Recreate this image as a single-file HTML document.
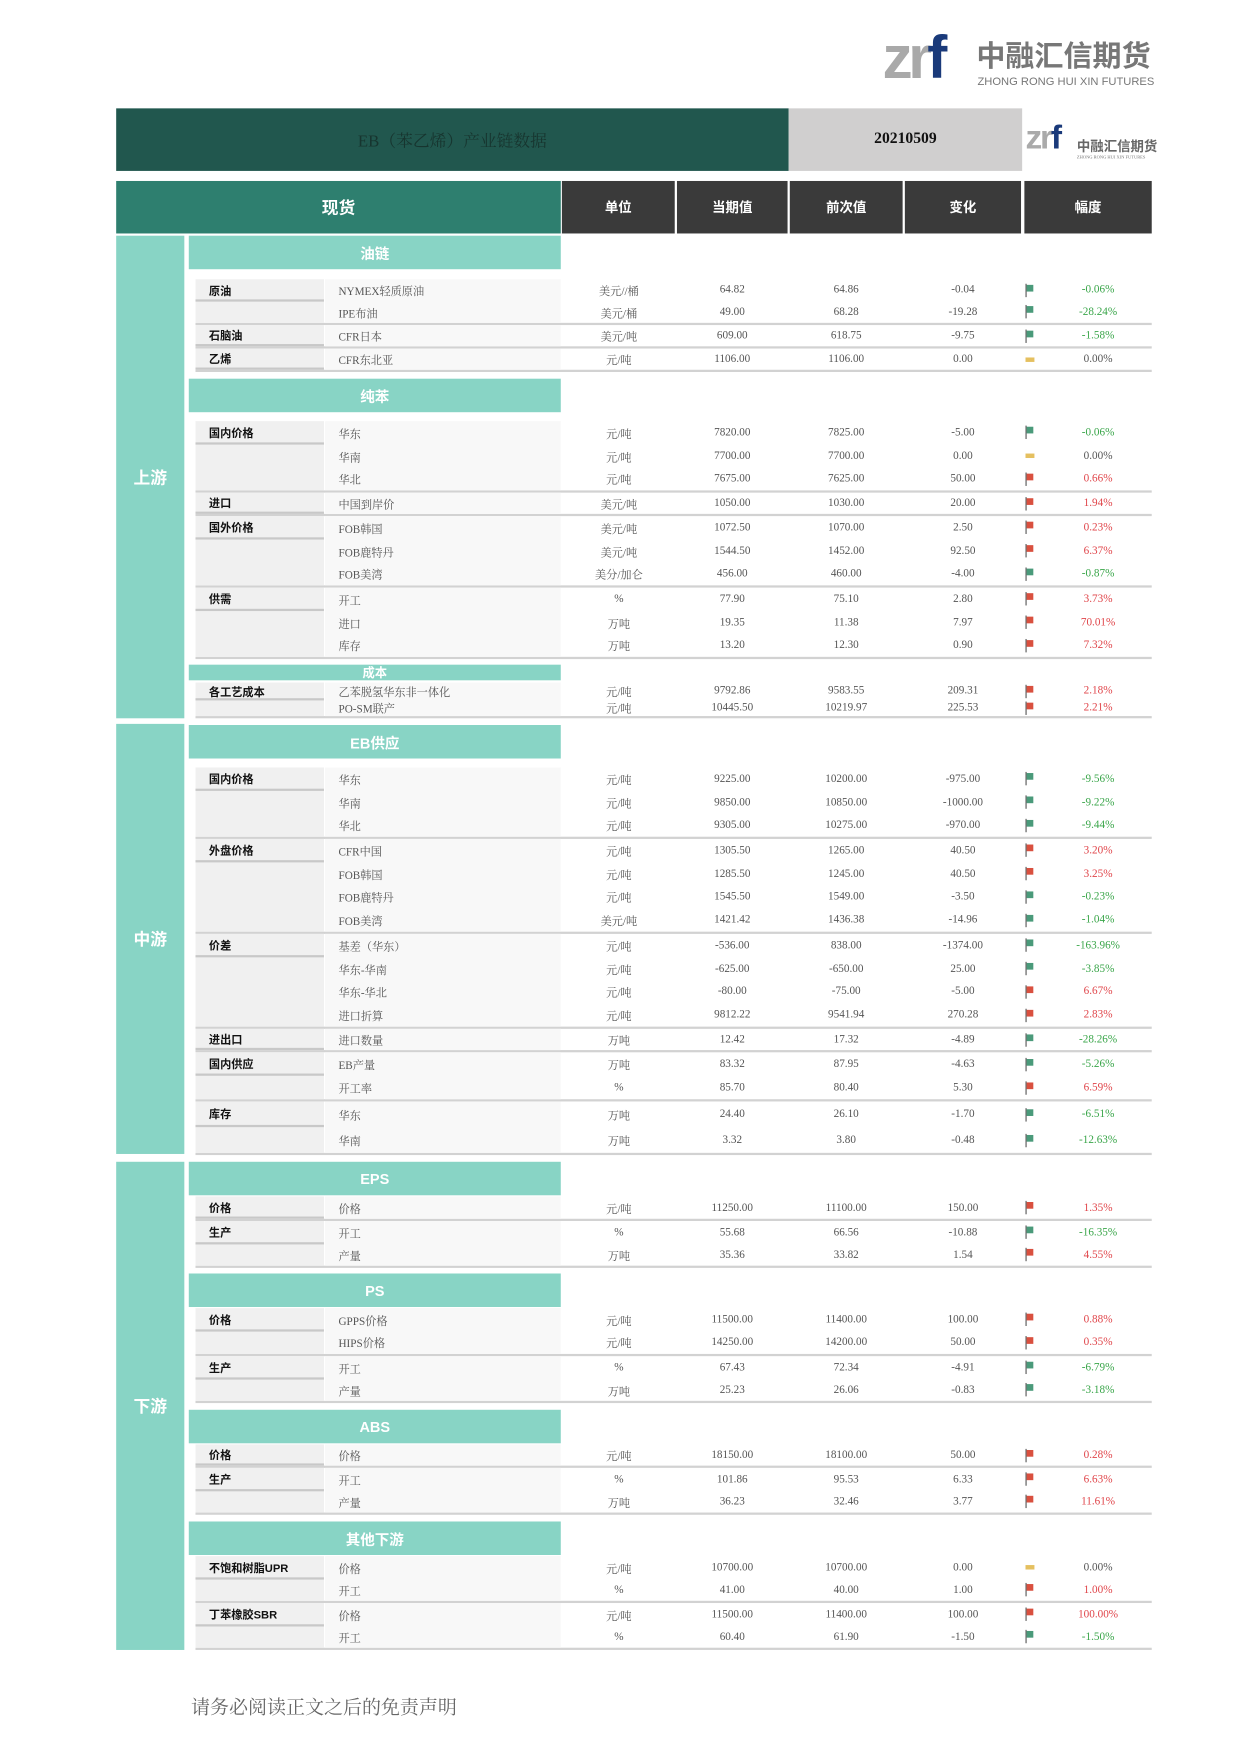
<!DOCTYPE html>
<html><head><meta charset="utf-8"><style>
html,body{margin:0;padding:0;background:#fff;}
body{width:1240px;height:1753px;overflow:hidden;position:relative;}
#w{position:absolute;left:0;top:0;width:1110px;height:1569px;transform:scale(1.1171);transform-origin:0 0;font-family:"Liberation Serif","Noto Serif CJK SC",serif;color:#555;font-size:10px;}
.a{position:absolute;}
.band{position:absolute;left:104px;width:61px;background:#88d4c5;color:#fff;font-weight:bold;font-size:15px;display:flex;align-items:center;justify-content:center;font-family:"Liberation Sans","Noto Sans CJK SC",sans-serif;}
.sec{position:absolute;left:169px;width:333px;background:#88d4c5;color:#fff;font-weight:bold;font-size:13px;display:flex;align-items:center;justify-content:center;font-family:"Liberation Sans","Noto Sans CJK SC",sans-serif;}
.hd{position:absolute;top:162px;height:47px;background:#3a3a3a;color:#fff;font-weight:bold;font-size:12px;display:flex;align-items:center;justify-content:center;font-family:"Liberation Sans","Noto Sans CJK SC",sans-serif;}
.g{position:absolute;left:175px;width:856px;border-bottom:2px solid #d2d2d2;display:flex;flex-direction:column;box-sizing:border-box;}
.lab{position:absolute;left:0;top:0;bottom:0;width:115px;background:#f0f0f0;}
.lab span{display:flex;align-items:center;padding-left:12px;box-sizing:border-box;border-bottom:2px solid #c8c8c8;font-weight:bold;color:#111;font-family:"Liberation Sans","Noto Sans CJK SC",sans-serif;font-size:10px;}
.it{position:absolute;left:116px;top:0;bottom:0;width:211px;background:#f8f8f8;}
.rw{position:relative;flex:1;display:flex;align-items:center;}
.rw div{text-align:center;}
.rw .s{width:116px}
.rw .n{width:212px;text-align:left;padding-left:12px;box-sizing:border-box;}
.rw .u{width:102px}.rw .c{width:101px}.rw .p{width:103px}.rw .d{width:106px}.rw .f{width:20px;height:12px}.rw .q{width:96px}
.r .q{color:#e0454a}.gr .q{color:#3aa64a}
.r .f{background:linear-gradient(#d9503f,#d9503f) 4px 1px/6px 6px no-repeat,linear-gradient(#555,#555) 3px 0/1px 12px no-repeat;}
.gr .f{background:linear-gradient(#4a9a7a,#4a9a7a) 4px 1px/6px 6px no-repeat,linear-gradient(#555,#555) 3px 0/1px 12px no-repeat;}
.z .f{background:linear-gradient(#e5c060,#e5c060) 3px 4px/8px 4px no-repeat;}
</style></head><body><div id="w">

<!-- top logo -->
<div class="a" style="left:790px;top:22px;font-family:'Liberation Sans',sans-serif;font-weight:bold;font-size:54px;color:#a9a9a9;letter-spacing:-4px;line-height:60px;">zr<span style="color:#1a3a7a">f</span></div>
<div class="a" style="left:874px;top:34px;font-family:'Noto Sans CJK SC',sans-serif;font-weight:bold;font-size:26px;color:#777;line-height:30px;">中融汇信期货</div>
<div class="a" style="left:875px;top:68px;font-family:'Liberation Sans',sans-serif;font-size:10px;color:#777;">ZHONG RONG HUI XIN FUTURES</div>

<!-- title bar -->
<div class="a" style="left:104px;top:97px;width:602px;height:56px;background:#21574e;display:flex;align-items:center;justify-content:center;color:#17352f;font-size:15px;">EB（苯乙烯）产业链数据</div>
<div class="a" style="left:706px;top:97px;width:209px;height:56px;background:#d0cfcf;display:flex;align-items:center;justify-content:center;color:#111;font-weight:bold;font-size:14px;">20210509</div>
<div class="a" style="left:918px;top:106px;font-family:'Liberation Sans',sans-serif;font-weight:bold;font-size:30px;color:#aaa;letter-spacing:-2px;line-height:36px;">zr<span style="color:#1a3a7a">f</span></div>
<div class="a" style="left:964px;top:122px;font-family:'Noto Sans CJK SC',sans-serif;font-weight:bold;font-size:12px;color:#666;">中融汇信期货</div>
<div class="a" style="left:964px;top:138px;font-size:4px;color:#777;">ZHONG RONG HUI XIN FUTURES</div>

<!-- header -->
<div class="a" style="left:104px;top:162px;width:398px;height:47px;background:#2e7f6f;color:#fff;font-weight:bold;font-size:15px;display:flex;align-items:center;justify-content:center;font-family:'Liberation Sans','Noto Sans CJK SC',sans-serif;">现货</div>
<div class="hd" style="left:503px;width:101px">单位</div>
<div class="hd" style="left:606px;width:99px">当期值</div>
<div class="hd" style="left:707px;width:101px">前次值</div>
<div class="hd" style="left:810px;width:104px">变化</div>
<div class="hd" style="left:917px;width:114px">幅度</div>

<div class="band" style="top:211px;height:432px">上游</div>
<div class="band" style="top:648px;height:385px">中游</div>
<div class="band" style="top:1040px;height:437px">下游</div>

<div class="sec" style="top:211px;height:30px">油链</div>
<div class="sec" style="top:339px;height:30px">纯苯</div>
<div class="sec" style="top:595px;height:14px;font-size:11px">成本</div>
<div class="sec" style="top:649px;height:30px">EB供应</div>
<div class="sec" style="top:1040px;height:30px">EPS</div>
<div class="sec" style="top:1140px;height:30px">PS</div>
<div class="sec" style="top:1262px;height:30px">ABS</div>
<div class="sec" style="top:1362px;height:30px">其他下游</div>

<!-- oil -->
<div class="g" style="top:250px;height:41px"><div class="lab"><span style="height:20px">原油</span></div><div class="it"></div>
<div class="rw gr"><div class="s"></div><div class="n">NYMEX轻质原油</div><div class="u">美元//桶</div><div class="c">64.82</div><div class="p">64.86</div><div class="d">-0.04</div><div class="f"></div><div class="q">-0.06%</div></div>
<div class="rw gr"><div class="s"></div><div class="n">IPE布油</div><div class="u">美元/桶</div><div class="c">49.00</div><div class="p">68.28</div><div class="d">-19.28</div><div class="f"></div><div class="q">-28.24%</div></div></div>
<div class="g" style="top:291px;height:21px"><div class="lab"><span style="height:19px">石脑油</span></div><div class="it"></div>
<div class="rw gr"><div class="s"></div><div class="n">CFR日本</div><div class="u">美元/吨</div><div class="c">609.00</div><div class="p">618.75</div><div class="d">-9.75</div><div class="f"></div><div class="q">-1.58%</div></div></div>
<div class="g" style="top:312px;height:21px"><div class="lab"><span style="height:19px">乙烯</span></div><div class="it"></div>
<div class="rw z"><div class="s"></div><div class="n">CFR东北亚</div><div class="u">元/吨</div><div class="c">1106.00</div><div class="p">1106.00</div><div class="d">0.00</div><div class="f"></div><div class="q">0.00%</div></div></div>

<!-- benzene -->
<div class="g" style="top:377px;height:64px"><div class="lab"><span style="height:21px">国内价格</span></div><div class="it"></div>
<div class="rw gr"><div class="s"></div><div class="n">华东</div><div class="u">元/吨</div><div class="c">7820.00</div><div class="p">7825.00</div><div class="d">-5.00</div><div class="f"></div><div class="q">-0.06%</div></div>
<div class="rw z"><div class="s"></div><div class="n">华南</div><div class="u">元/吨</div><div class="c">7700.00</div><div class="p">7700.00</div><div class="d">0.00</div><div class="f"></div><div class="q">0.00%</div></div>
<div class="rw r"><div class="s"></div><div class="n">华北</div><div class="u">元/吨</div><div class="c">7675.00</div><div class="p">7625.00</div><div class="d">50.00</div><div class="f"></div><div class="q">0.66%</div></div></div>
<div class="g" style="top:441px;height:21px"><div class="lab"><span style="height:19px">进口</span></div><div class="it"></div>
<div class="rw r"><div class="s"></div><div class="n">中国到岸价</div><div class="u">美元/吨</div><div class="c">1050.00</div><div class="p">1030.00</div><div class="d">20.00</div><div class="f"></div><div class="q">1.94%</div></div></div>
<div class="g" style="top:462px;height:64px"><div class="lab"><span style="height:21px">国外价格</span></div><div class="it"></div>
<div class="rw r"><div class="s"></div><div class="n">FOB韩国</div><div class="u">美元/吨</div><div class="c">1072.50</div><div class="p">1070.00</div><div class="d">2.50</div><div class="f"></div><div class="q">0.23%</div></div>
<div class="rw r"><div class="s"></div><div class="n">FOB鹿特丹</div><div class="u">美元/吨</div><div class="c">1544.50</div><div class="p">1452.00</div><div class="d">92.50</div><div class="f"></div><div class="q">6.37%</div></div>
<div class="rw gr"><div class="s"></div><div class="n">FOB美湾</div><div class="u">美分/加仑</div><div class="c">456.00</div><div class="p">460.00</div><div class="d">-4.00</div><div class="f"></div><div class="q">-0.87%</div></div></div>
<div class="g" style="top:526px;height:64px"><div class="lab"><span style="height:21px">供需</span></div><div class="it"></div>
<div class="rw r"><div class="s"></div><div class="n">开工</div><div class="u">%</div><div class="c">77.90</div><div class="p">75.10</div><div class="d">2.80</div><div class="f"></div><div class="q">3.73%</div></div>
<div class="rw r"><div class="s"></div><div class="n">进口</div><div class="u">万吨</div><div class="c">19.35</div><div class="p">11.38</div><div class="d">7.97</div><div class="f"></div><div class="q">70.01%</div></div>
<div class="rw r"><div class="s"></div><div class="n">库存</div><div class="u">万吨</div><div class="c">13.20</div><div class="p">12.30</div><div class="d">0.90</div><div class="f"></div><div class="q">7.32%</div></div></div>
<div class="g" style="top:611px;height:32px"><div class="lab"><span style="height:16px">各工艺成本</span></div><div class="it"></div>
<div class="rw r"><div class="s"></div><div class="n">乙苯脱氢华东非一体化</div><div class="u">元/吨</div><div class="c">9792.86</div><div class="p">9583.55</div><div class="d">209.31</div><div class="f"></div><div class="q">2.18%</div></div>
<div class="rw r"><div class="s"></div><div class="n">PO-SM联产</div><div class="u">元/吨</div><div class="c">10445.50</div><div class="p">10219.97</div><div class="d">225.53</div><div class="f"></div><div class="q">2.21%</div></div></div>

<!-- EB -->
<div class="g" style="top:687px;height:64px"><div class="lab"><span style="height:21px">国内价格</span></div><div class="it"></div>
<div class="rw gr"><div class="s"></div><div class="n">华东</div><div class="u">元/吨</div><div class="c">9225.00</div><div class="p">10200.00</div><div class="d">-975.00</div><div class="f"></div><div class="q">-9.56%</div></div>
<div class="rw gr"><div class="s"></div><div class="n">华南</div><div class="u">元/吨</div><div class="c">9850.00</div><div class="p">10850.00</div><div class="d">-1000.00</div><div class="f"></div><div class="q">-9.22%</div></div>
<div class="rw gr"><div class="s"></div><div class="n">华北</div><div class="u">元/吨</div><div class="c">9305.00</div><div class="p">10275.00</div><div class="d">-970.00</div><div class="f"></div><div class="q">-9.44%</div></div></div>
<div class="g" style="top:751px;height:85px"><div class="lab"><span style="height:21px">外盘价格</span></div><div class="it"></div>
<div class="rw r"><div class="s"></div><div class="n">CFR中国</div><div class="u">元/吨</div><div class="c">1305.50</div><div class="p">1265.00</div><div class="d">40.50</div><div class="f"></div><div class="q">3.20%</div></div>
<div class="rw r"><div class="s"></div><div class="n">FOB韩国</div><div class="u">元/吨</div><div class="c">1285.50</div><div class="p">1245.00</div><div class="d">40.50</div><div class="f"></div><div class="q">3.25%</div></div>
<div class="rw gr"><div class="s"></div><div class="n">FOB鹿特丹</div><div class="u">元/吨</div><div class="c">1545.50</div><div class="p">1549.00</div><div class="d">-3.50</div><div class="f"></div><div class="q">-0.23%</div></div>
<div class="rw gr"><div class="s"></div><div class="n">FOB美湾</div><div class="u">美元/吨</div><div class="c">1421.42</div><div class="p">1436.38</div><div class="d">-14.96</div><div class="f"></div><div class="q">-1.04%</div></div></div>
<div class="g" style="top:836px;height:85px"><div class="lab"><span style="height:21px">价差</span></div><div class="it"></div>
<div class="rw gr"><div class="s"></div><div class="n">基差（华东）</div><div class="u">元/吨</div><div class="c">-536.00</div><div class="p">838.00</div><div class="d">-1374.00</div><div class="f"></div><div class="q">-163.96%</div></div>
<div class="rw gr"><div class="s"></div><div class="n">华东-华南</div><div class="u">元/吨</div><div class="c">-625.00</div><div class="p">-650.00</div><div class="d">25.00</div><div class="f"></div><div class="q">-3.85%</div></div>
<div class="rw r"><div class="s"></div><div class="n">华东-华北</div><div class="u">元/吨</div><div class="c">-80.00</div><div class="p">-75.00</div><div class="d">-5.00</div><div class="f"></div><div class="q">6.67%</div></div>
<div class="rw r"><div class="s"></div><div class="n">进口折算</div><div class="u">元/吨</div><div class="c">9812.22</div><div class="p">9541.94</div><div class="d">270.28</div><div class="f"></div><div class="q">2.83%</div></div></div>
<div class="g" style="top:921px;height:21px"><div class="lab"><span style="height:19px">进出口</span></div><div class="it"></div>
<div class="rw gr"><div class="s"></div><div class="n">进口数量</div><div class="u">万吨</div><div class="c">12.42</div><div class="p">17.32</div><div class="d">-4.89</div><div class="f"></div><div class="q">-28.26%</div></div></div>
<div class="g" style="top:942px;height:44px"><div class="lab"><span style="height:21px">国内供应</span></div><div class="it"></div>
<div class="rw gr"><div class="s"></div><div class="n">EB产量</div><div class="u">万吨</div><div class="c">83.32</div><div class="p">87.95</div><div class="d">-4.63</div><div class="f"></div><div class="q">-5.26%</div></div>
<div class="rw r"><div class="s"></div><div class="n">开工率</div><div class="u">%</div><div class="c">85.70</div><div class="p">80.40</div><div class="d">5.30</div><div class="f"></div><div class="q">6.59%</div></div></div>
<div class="g" style="top:986px;height:48px"><div class="lab"><span style="height:23px">库存</span></div><div class="it"></div>
<div class="rw gr"><div class="s"></div><div class="n">华东</div><div class="u">万吨</div><div class="c">24.40</div><div class="p">26.10</div><div class="d">-1.70</div><div class="f"></div><div class="q">-6.51%</div></div>
<div class="rw gr"><div class="s"></div><div class="n">华南</div><div class="u">万吨</div><div class="c">3.32</div><div class="p">3.80</div><div class="d">-0.48</div><div class="f"></div><div class="q">-12.63%</div></div></div>

<!-- EPS -->
<div class="g" style="top:1071px;height:22px"><div class="lab"><span style="height:20px">价格</span></div><div class="it"></div>
<div class="rw r"><div class="s"></div><div class="n">价格</div><div class="u">元/吨</div><div class="c">11250.00</div><div class="p">11100.00</div><div class="d">150.00</div><div class="f"></div><div class="q">1.35%</div></div></div>
<div class="g" style="top:1093px;height:42px"><div class="lab"><span style="height:21px">生产</span></div><div class="it"></div>
<div class="rw gr"><div class="s"></div><div class="n">开工</div><div class="u">%</div><div class="c">55.68</div><div class="p">66.56</div><div class="d">-10.88</div><div class="f"></div><div class="q">-16.35%</div></div>
<div class="rw r"><div class="s"></div><div class="n">产量</div><div class="u">万吨</div><div class="c">35.36</div><div class="p">33.82</div><div class="d">1.54</div><div class="f"></div><div class="q">4.55%</div></div></div>

<!-- PS -->
<div class="g" style="top:1171px;height:43px"><div class="lab"><span style="height:21px">价格</span></div><div class="it"></div>
<div class="rw r"><div class="s"></div><div class="n">GPPS价格</div><div class="u">元/吨</div><div class="c">11500.00</div><div class="p">11400.00</div><div class="d">100.00</div><div class="f"></div><div class="q">0.88%</div></div>
<div class="rw r"><div class="s"></div><div class="n">HIPS价格</div><div class="u">元/吨</div><div class="c">14250.00</div><div class="p">14200.00</div><div class="d">50.00</div><div class="f"></div><div class="q">0.35%</div></div></div>
<div class="g" style="top:1214px;height:42px"><div class="lab"><span style="height:21px">生产</span></div><div class="it"></div>
<div class="rw gr"><div class="s"></div><div class="n">开工</div><div class="u">%</div><div class="c">67.43</div><div class="p">72.34</div><div class="d">-4.91</div><div class="f"></div><div class="q">-6.79%</div></div>
<div class="rw gr"><div class="s"></div><div class="n">产量</div><div class="u">万吨</div><div class="c">25.23</div><div class="p">26.06</div><div class="d">-0.83</div><div class="f"></div><div class="q">-3.18%</div></div></div>

<!-- ABS -->
<div class="g" style="top:1293px;height:21px"><div class="lab"><span style="height:19px">价格</span></div><div class="it"></div>
<div class="rw r"><div class="s"></div><div class="n">价格</div><div class="u">元/吨</div><div class="c">18150.00</div><div class="p">18100.00</div><div class="d">50.00</div><div class="f"></div><div class="q">0.28%</div></div></div>
<div class="g" style="top:1314px;height:42px"><div class="lab"><span style="height:21px">生产</span></div><div class="it"></div>
<div class="rw r"><div class="s"></div><div class="n">开工</div><div class="u">%</div><div class="c">101.86</div><div class="p">95.53</div><div class="d">6.33</div><div class="f"></div><div class="q">6.63%</div></div>
<div class="rw r"><div class="s"></div><div class="n">产量</div><div class="u">万吨</div><div class="c">36.23</div><div class="p">32.46</div><div class="d">3.77</div><div class="f"></div><div class="q">11.61%</div></div></div>

<!-- other -->
<div class="g" style="top:1393px;height:42px"><div class="lab"><span style="height:21px">不饱和树脂UPR</span></div><div class="it"></div>
<div class="rw z"><div class="s"></div><div class="n">价格</div><div class="u">元/吨</div><div class="c">10700.00</div><div class="p">10700.00</div><div class="d">0.00</div><div class="f"></div><div class="q">0.00%</div></div>
<div class="rw r"><div class="s"></div><div class="n">开工</div><div class="u">%</div><div class="c">41.00</div><div class="p">40.00</div><div class="d">1.00</div><div class="f"></div><div class="q">1.00%</div></div></div>
<div class="g" style="top:1435px;height:42px"><div class="lab"><span style="height:21px">丁苯橡胶SBR</span></div><div class="it"></div>
<div class="rw r"><div class="s"></div><div class="n">价格</div><div class="u">元/吨</div><div class="c">11500.00</div><div class="p">11400.00</div><div class="d">100.00</div><div class="f"></div><div class="q">100.00%</div></div>
<div class="rw gr"><div class="s"></div><div class="n">开工</div><div class="u">%</div><div class="c">60.40</div><div class="p">61.90</div><div class="d">-1.50</div><div class="f"></div><div class="q">-1.50%</div></div></div>

<div class="a" style="left:171px;top:1514px;font-size:17px;color:#666;">请务必阅读正文之后的免责声明</div>
</div></body></html>
